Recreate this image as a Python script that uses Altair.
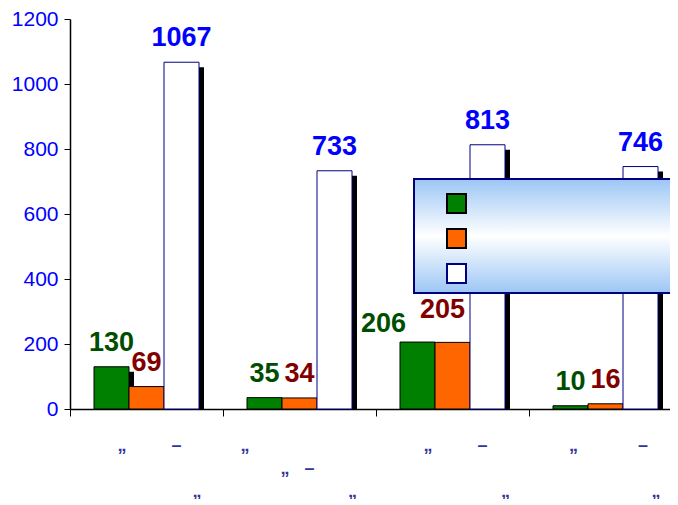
import altair as alt
import pandas as pd

NB = "\u00a0"
Z = "\u200b"


def L(s):
    return Z + s + Z


# Category labels (rendered as they appear: punctuation only), lines split by "|"
categories = [
    L(NB + "„" + NB * 9 + "–") + "|" + L("") + "|" + L(NB * 20 + "„"),
    L("„" + NB * 22) + "|" + L("„" + NB * 3 + "–" + NB) + "|" + L(NB * 21 + "„"),
    L(NB + "„" + NB * 9 + "–") + "|" + L(NB) + "|" + L(NB * 21 + "„"),
    L(NB + "„" + NB * 12 + "–") + "|" + L(NB * 2) + "|" + L(NB * 20 + "„"),
]
series = ["Ряд 1", "Ряд 2", "Ряд 3"]
green_vals = [130, 35, 206, 10]
orange_vals = [69, 34, 205, 16]
white_vals = [1067, 733, 813, 746]
y_ticks = [0, 200, 400, 600, 800, 1000, 1200]

fill_colors = ["#008000", "#ff6600", "#ffffff"]
stroke_colors = ["#000000", "#000000", "#000080"]
label_colors = ["#004d00", "#800000", "#0000ff"]
offsets = [-35, 0, 35]
# hand-placed data labels in the original (only the crowded pair in group 3)
label_dx = ["datum.value === 206 ? -34 : 0", "datum.value === 205 ? -10 : 0", "0"]
label_dy = ["datum.value === 206 ? -10 : -16", "datum.value === 205 ? -24 : -16", "-16"]

rows = []
for s, vals in zip(series, [green_vals, orange_vals, white_vals]):
    for c, v in zip(categories, vals):
        rows.append({"category": c, "series": s, "value": v})
df = pd.DataFrame(rows)

xscale = alt.Scale(domain=categories, range=[0, 612], paddingInner=0, paddingOuter=0)
yscale = alt.Scale(domain=[0, 1200], nice=False)

x_enc = alt.X(
    "category:N",
    scale=xscale,
    sort=categories,
    axis=alt.Axis(
        title=None,
        labelExpr="split(datum.label, '|')",
        labelColor="#333399",
        labelFont="Liberation Sans",
        labelFontSize=18,
        labelFontWeight="bold",
        labelLineHeight=23,
        labelBaseline="top",
        labelPadding=20,
        labelAngle=0,
        labelLimit=0,
        labelOverlap=False,
        tickBand="extent",
        tickSize=7,
        tickColor="black",
        domainColor="black",
        domainWidth=1.5,
    ),
)
y_axis = alt.Axis(
    title=None,
    values=y_ticks,
    format="d",
    grid=False,
    labelColor="#0000ff",
    labelFont="Liberation Sans",
    labelFontSize=21,
    labelPadding=6,
    tickSize=6,
    tickColor="black",
    domainColor="black",
    domainWidth=1.5,
)
y_enc = alt.Y("value:Q", scale=yscale, axis=y_axis)
# drop shadow: same bar, top lowered by ~5 px (5 px of 390 px for 1200 units)
y_shadow = alt.Y("shadow_top:Q", scale=yscale, axis=y_axis)

legend = alt.Legend(
    title=None,
    orient="none",
    legendX=376,
    legendY=174,
    symbolType="square",
    symbolSize=361,
    symbolStrokeWidth=2,
    labelExpr="''",
    labelFontSize=10,
    rowPadding=8,
    padding=0,
)
color_enc = alt.Color("series:N", scale=alt.Scale(domain=series, range=fill_colors), legend=legend)
stroke_enc = alt.Stroke("series:N", scale=alt.Scale(domain=series, range=stroke_colors), legend=legend)

base = alt.Chart(df)

shadows = []
bars = []
labels = []
for s, off, lc, ldx, ldy in zip(series, offsets, label_colors, label_dx, label_dy):
    sub = base.transform_filter(alt.datum.series == s)
    shadows.append(
        sub.transform_calculate(shadow_top="max(datum.value - 5 * 1200 / 390, 0)")
        .mark_bar(color="black", width=35, xOffset=off + 5)
        .encode(x=x_enc, y=y_shadow)
    )
    bars.append(
        sub.mark_bar(width=35, xOffset=off, strokeWidth=1).encode(
            x=x_enc, y=y_enc, color=color_enc, stroke=stroke_enc
        )
    )
    labels.append(
        sub.mark_text(
            xOffset=off,
            dx=alt.ExprRef(ldx),
            dy=alt.ExprRef(ldy),
            baseline="alphabetic",
            font="Liberation Sans",
            fontSize=27,
            fontWeight="bold",
            color=lc,
        ).encode(x=x_enc, y=y_enc, text="value:Q")
    )

legend_box = alt.Chart(alt.Data(values=[{}])).mark_rect(
    fill=alt.Gradient(
        gradient="linear",
        stops=[
            alt.GradientStop(color="#9cc6f5", offset=0),
            alt.GradientStop(color="#ffffff", offset=0.5),
            alt.GradientStop(color="#9cc6f5", offset=1),
        ],
        x1=0, x2=0, y1=0, y2=1,
    ),
    stroke="#000080",
    strokeWidth=2,
).encode(x=alt.value(344), x2=alt.value(660), y=alt.value(160), y2=alt.value(274))

chart = alt.layer(*shadows, *bars, *labels, legend_box).properties(
    width=600,
    height=390,
    autosize=alt.AutoSizeParams(type="none"),
    padding={"left": 62, "top": 11, "right": 0, "bottom": 90},
    background="white",
).configure_view(stroke=None)

chart.save("out.html", embed_options={"renderer": "svg", "actions": False})
